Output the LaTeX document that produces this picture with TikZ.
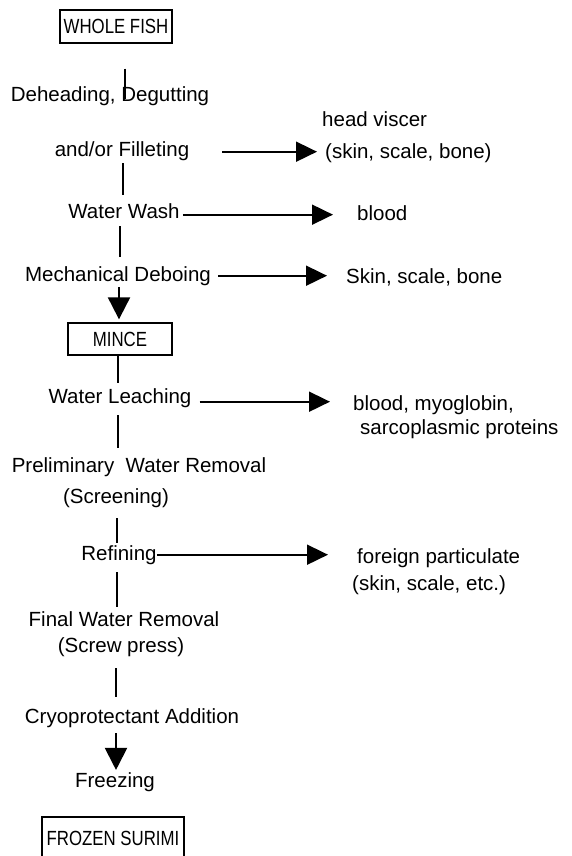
\documentclass[tikz,border=0pt]{standalone}
\usepackage{fontspec}
\setmainfont{Liberation Sans}
\newfontfamily\capsfont[FakeStretch=0.82]{Liberation Sans}
\usetikzlibrary{arrows.meta,positioning}
\newcommand{\stepsize}{\fontsize{20.5}{24}\selectfont}

\begin{document}
\begin{tikzpicture}[x=1pt,y=-1pt,
  stepnode/.style={inner sep=0pt,anchor=base,font=\stepsize},
  outnode/.style={inner sep=0pt,anchor=base west,font=\stepsize},
  stagebox/.style={draw,line width=1.3pt,inner sep=0pt,font=\capsfont\stepsize},
  link/.style={line width=2pt},
  flow/.style={line width=2pt,-{Triangle[length=22pt,width=22pt]}},
  outflow/.style={line width=1.8pt,-{Triangle[length=21pt,width=20pt]}}]
  \useasboundingbox (0,0) rectangle (571,856);
  % boxed stages
  \node[stagebox,minimum width=112pt,minimum height=33pt] (whole) at (116,26.5) {WHOLE FISH};
  \node[stagebox,minimum width=104pt,minimum height=32pt] (mince) at (120,339) {MINCE};
  \node[stagebox,minimum width=142pt,minimum height=42pt] (surimi) at (113,838) {FROZEN SURIMI};
  % process steps (x centre / baseline)
  \foreach \n/\x/\y/\t in {dehead/110/102/{Deheading, Degutting},
      fillet/122/157/{and/or Filleting}, wash/124/218/{Water Wash},
      debone/118/281/{Mechanical Deboing}, leach/120/403/{Water Leaching},
      prelim/139/472/{Preliminary\ \ Water Removal}, screen/116/503/{(Screening)},
      refine/119/560/{Refining}, final/124/626/{Final Water Removal},
      screw/121/652/{(Screw press)}, cryo/132/723/{Cryoprotectant Addition},
      freeze/115/787/{Freezing}}
    \node[stepnode] (\n) at (\x,\y) {\t};
  % removed material
  \foreach \n/\x/\y/\t in {viscA/322/127/{head viscer}, viscB/325/158/{(skin, scale, bone)},
      bloodA/357/220/{blood}, bones/346/283/{Skin, scale, bone},
      myo/353/410/{blood, myoglobin,}, sarco/360/434/{sarcoplasmic proteins},
      foreign/357/563/{foreign particulate}, foreignB/352/590/{(skin, scale, etc.)}}
    \node[outnode] (\n) at (\x,\y) {\t};
  % main line
  \foreach \a/\b/\x/\s/\e/\st in {whole/dehead/125/25/-12/link, fillet/wash/123/2/8/link,
      wash/debone/120/8/9/link, debone/mince/119/2/3/flow, mince/leach/118/0/5/link,
      leach/prelim/118/8/9/link, screen/refine/117/11/2/link, refine/final/117/8/4/link,
      screw/cryo/116/12/11/link, cryo/freeze/116/6/2/flow}
    \draw[\st,shorten <=\s,shorten >=\e] (\a.south -| \x,0) -- (\b.north -| \x,0);
  % side streams
  \foreach \a/\b/\s/\e/\dy in {fillet/viscB/33/8/0, wash/bloodA/3/24/-4,
      debone/bones/7/19/0, leach/myo/8/23/-4, refine/foreign/0/29/0}{
    \path ([yshift=\dy]\a.east) coordinate (src);
    \draw[outflow,shorten <=\s,shorten >=\e] (src) -- (src -| \b.west);
  }
\end{tikzpicture}
\end{document}
